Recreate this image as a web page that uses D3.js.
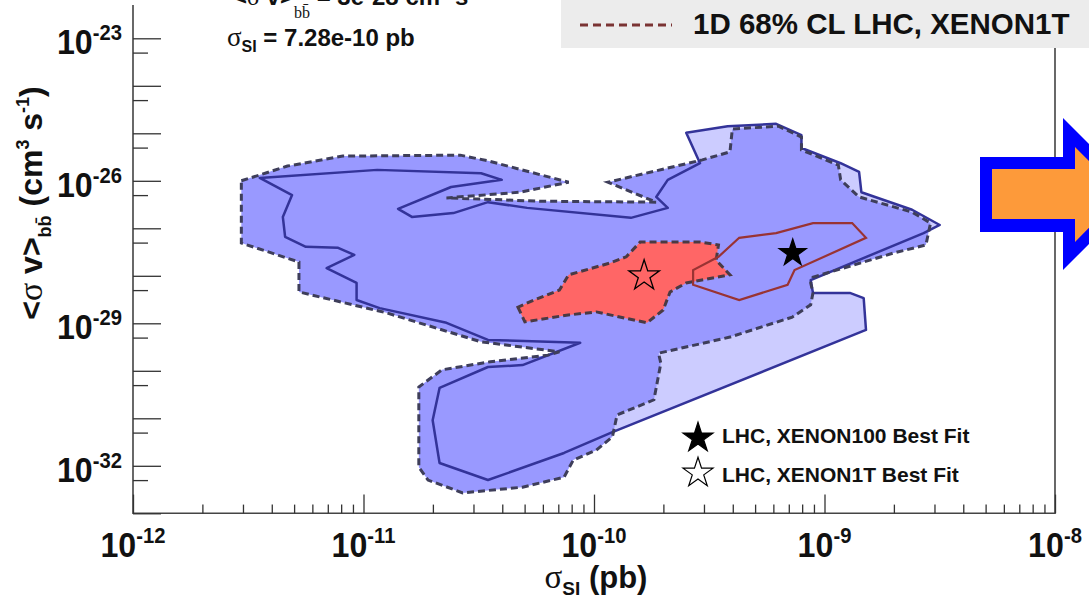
<!DOCTYPE html>
<html>
<head>
<meta charset="utf-8">
<script src="https://cdn.jsdelivr.net/npm/d3@7"></script>
<style>
  body { margin: 0; background: #fff; }
  svg { display: block; font-family: "Liberation Sans", Arial, Helvetica, sans-serif; }
</style>
</head>
<body>
<svg id="chart" width="1089" height="598"></svg>
<script>
// axis decades (powers of ten)
var xTickExps = [-12, -11, -10, -9, -8];
var yTickExps = [-23, -26, -29, -32];
var yDecadeExps = d3.range(-33, -22);

// contours, as [log10 sigma_SI (pb), log10 <sigma v> (cm^3 s^-1)]
var contourSolid = [
  [-11.45,-25.94],[-10.94,-25.77],[-10.49,-25.84],[-10.40,-25.98],[-10.62,-26.13],[-10.85,-26.59],
  [-10.79,-26.76],[-10.61,-26.68],[-10.46,-26.45],[-10.29,-26.57],[-9.84,-26.78],[-9.68,-26.57],
  [-9.73,-26.34],[-9.68,-25.98],[-9.54,-25.63],[-9.60,-24.99],[-9.42,-24.85],[-9.21,-24.80],
  [-9.10,-25.04],[-9.10,-25.31],[-8.93,-25.63],[-8.85,-25.81],[-8.84,-26.24],[-8.62,-26.61],
  [-8.50,-26.93],[-8.57,-27.10],[-9.06,-28.09],[-9.05,-28.36],[-8.89,-28.36],[-8.83,-28.47],
  [-8.82,-29.14],[-9.92,-31.29],[-10.13,-31.73],[-10.46,-32.30],[-10.67,-31.94],[-10.70,-31.04],
  [-10.67,-30.36],[-10.46,-29.92],[-10.31,-29.88],[-10.06,-29.41],[-10.46,-29.35],[-10.64,-28.99],
  [-10.93,-28.68],[-11.03,-28.51],[-11.03,-28.15],[-11.16,-27.84],[-11.04,-27.56],[-11.11,-27.41],
  [-11.25,-27.39],[-11.34,-27.18],[-11.35,-26.76],[-11.31,-26.30]
];
var contourDashed = [
  [-11.53,-26.00],[-11.33,-25.69],[-11.09,-25.48],[-10.58,-25.46],[-10.46,-25.58],[-10.11,-26.03],
  [-10.32,-26.24],[-10.64,-26.36],[-10.23,-26.43],[-9.73,-26.45],[-9.94,-26.03],[-9.53,-25.56],
  [-9.41,-25.39],[-9.40,-24.91],[-9.20,-24.85],[-9.10,-25.08],[-9.10,-25.35],[-8.94,-25.67],
  [-8.93,-25.98],[-8.85,-26.34],[-8.62,-26.66],[-8.54,-26.89],[-8.56,-27.35],[-8.70,-27.52],
  [-9.05,-28.03],[-9.06,-28.15],[-9.05,-28.36],[-9.06,-28.61],[-9.14,-28.87],[-9.41,-29.29],
  [-9.72,-29.63],[-9.71,-29.84],[-9.74,-30.61],[-9.90,-30.93],[-9.92,-31.39],[-9.99,-31.67],
  [-10.09,-31.88],[-10.13,-32.24],[-10.31,-32.45],[-10.57,-32.57],[-10.72,-32.30],[-10.76,-32.03],
  [-10.76,-30.34],[-10.66,-29.98],[-10.45,-29.81],[-10.20,-29.67],[-10.15,-29.60],[-10.49,-29.39],
  [-10.90,-28.78],[-11.28,-28.34],[-11.28,-27.71],[-11.53,-27.31]
];
var contourRed = [
  [-10.33,-28.66],[-10.30,-28.97],[-10.12,-28.83],[-9.99,-28.76],[-9.77,-28.99],[-9.70,-28.72],
  [-9.67,-28.34],[-9.60,-28.15],[-9.41,-27.98],[-9.47,-27.67],[-9.46,-27.35],[-9.54,-27.29],
  [-9.80,-27.29],[-9.86,-27.60],[-9.93,-27.73],[-10.11,-27.98],[-10.15,-28.30],[-10.26,-28.51]
];
var contourBrown = [
  [-9.57,-27.88],[-9.57,-28.19],[-9.37,-28.51],[-9.16,-28.19],[-9.13,-27.88],[-8.82,-27.20],
  [-8.88,-26.89],[-9.05,-26.89],[-9.21,-27.10],[-9.37,-27.20],[-9.46,-27.60]
];

// best fit points
var bestFitNames = ["LHC, XENON100 Best Fit", "LHC, XENON1T Best Fit"];
var bestFitSigma = [7.28e-10, 1.65e-10];
var bestFitSv = [3.0e-28, 1.0e-28];
var bestFitFilled = [true, false];

var legendLabel = "1D 68% CL LHC, XENON1T";

var svg = d3.select("#chart");
var plotLeft = 133, plotRight = 1055, plotBottom = 513.3, frameTop = 5, decadeH = 47.5;

function p10(e) { return Math.pow(10, e); }

var x = d3.scaleLog().domain([1e-12, 1e-8]).range([plotLeft, plotRight]);
var y = d3.scaleLog().domain([1e-33, 1e-22]).range([plotBottom, plotBottom - 11 * decadeH]);

var contour = d3.line()
  .x(function(d) { return x(p10(d[0])); })
  .y(function(d) { return y(p10(d[1])); })
  .curve(d3.curveLinearClosed);

// fills
svg.append("path").datum(contourSolid).attr("d", contour).attr("fill", "#ccccff");
svg.append("path").datum(contourDashed).attr("d", contour).attr("fill", "#9999ff");
svg.append("path").datum(contourRed).attr("d", contour).attr("fill", "#ff6666");

// outlines
svg.append("path").datum(contourSolid).attr("d", contour)
  .attr("fill", "none").attr("stroke", "#333399").attr("stroke-width", 2.5).attr("stroke-linejoin", "round");
svg.append("path").datum(contourDashed).attr("d", contour)
  .attr("fill", "none").attr("stroke", "#3e3e5a").attr("stroke-width", 3).attr("stroke-dasharray", "7,4");
svg.append("path").datum(contourRed).attr("d", contour)
  .attr("fill", "none").attr("stroke", "#4a3a44").attr("stroke-width", 3).attr("stroke-dasharray", "7,4");
svg.append("path").datum(contourBrown).attr("d", contour)
  .attr("fill", "none").attr("stroke", "#993333").attr("stroke-width", 2.2);

// best fit stars
var star = d3.symbol().type(d3.symbolStar);
svg.selectAll(".bestfit").data(bestFitSigma).join("path")
  .attr("class", "bestfit")
  .attr("transform", function(d, i) { return "translate(" + x(d) + "," + y(bestFitSv[i]) + ")"; })
  .attr("d", function(d, i) { return star.size(bestFitFilled[i] ? 225 : 290)(); })
  .attr("fill", function(d, i) { return bestFitFilled[i] ? "#000" : "none"; })
  .attr("stroke", "#000").attr("stroke-width", 1.3);

// frame
svg.append("path")
  .attr("d", "M" + plotLeft + "," + frameTop + "V" + plotBottom + "H" + plotRight + "V" + frameTop)
  .attr("fill", "none").attr("stroke", "#444").attr("stroke-width", 1.6);

// x ticks
var xMinor = [];
xTickExps.slice(0, -1).forEach(function(e) {
  for (var k = 2; k < 10; k++) xMinor.push(k * p10(e));
});
svg.append("g").attr("transform", "translate(0," + plotBottom + ")").attr("color", "#333")
  .call(d3.axisBottom(x).tickValues(xTickExps.map(p10)).tickSize(-18.7).tickFormat(""))
  .call(function(g) { g.select(".domain").remove(); g.selectAll("line").attr("stroke-width", 1.3); });
svg.append("g").attr("transform", "translate(0," + plotBottom + ")").attr("color", "#333")
  .call(d3.axisBottom(x).tickValues(xMinor).tickSize(-8.7).tickFormat(""))
  .call(function(g) { g.select(".domain").remove(); g.selectAll("line").attr("stroke-width", 1.3); });

// y ticks
var yMajor = yDecadeExps.map(p10).filter(function(v) { return y(v) > frameTop + 3; });
var yMinor = yDecadeExps.map(function(e) { return 5 * p10(e); }).filter(function(v) { return y(v) > frameTop + 3; });
svg.append("g").attr("transform", "translate(" + plotLeft + ",0)").attr("color", "#333")
  .call(d3.axisLeft(y).tickValues(yMajor).tickSize(-28).tickFormat(""))
  .call(function(g) { g.select(".domain").remove(); g.selectAll("line").attr("stroke-width", 1.3); });
svg.append("g").attr("transform", "translate(" + plotLeft + ",0)").attr("color", "#333")
  .call(d3.axisLeft(y).tickValues(yMinor).tickSize(-15).tickFormat(""))
  .call(function(g) { g.select(".domain").remove(); g.selectAll("line").attr("stroke-width", 1.3); });

// tick labels
var xl = svg.append("g").selectAll("text").data(xTickExps).join("text")
  .attr("transform", function(d) { return "translate(" + x(p10(d)) + ",556.7) scale(0.92,1)"; })
  .attr("text-anchor", "middle").attr("font-weight", "bold").attr("font-size", 35).attr("fill", "#111");
xl.append("tspan").text("10");
xl.append("tspan").attr("dy", -14).attr("font-size", 22).text(function(d) { return d; });

var yl = svg.append("g").selectAll("text").data(yTickExps).join("text")
  .attr("transform", function(d) { return "translate(122," + (y(p10(d)) + 16) + ") scale(0.92,1)"; })
  .attr("text-anchor", "end").attr("font-weight", "bold").attr("font-size", 35).attr("fill", "#111");
yl.append("tspan").text("10");
yl.append("tspan").attr("dy", -14).attr("font-size", 22).text(function(d) { return d; });

// axis titles
var xt = svg.append("text").attr("x", 596).attr("y", 588).attr("text-anchor", "middle")
  .attr("font-weight", "bold").attr("font-size", 31).attr("fill", "#111");
xt.append("tspan").attr("font-family", "Liberation Serif").attr("font-weight", "normal").attr("font-size", 33).text("σ");
xt.append("tspan").attr("dy", 7).attr("font-size", 19).text("SI");
xt.append("tspan").attr("dy", -7).text(" (pb)");

var yt = svg.append("text").attr("transform", "translate(42,203) rotate(-90)").attr("text-anchor", "middle")
  .attr("font-weight", "bold").attr("font-size", 32).attr("fill", "#111");
yt.append("tspan").text("<");
yt.append("tspan").attr("font-family", "Liberation Serif").attr("font-weight", "normal").attr("font-size", 34).text("σ");
yt.append("tspan").text(" v>");
yt.append("tspan").attr("dy", 9).attr("font-size", 18).text("bb\u0304");
yt.append("tspan").attr("dy", -9).text(" (cm");
yt.append("tspan").attr("dy", -13).attr("font-size", 18).text("3");
yt.append("tspan").attr("dy", 13).text(" s");
yt.append("tspan").attr("dy", -13).attr("font-size", 18).text("-1");
yt.append("tspan").attr("dy", 13).text(")");

// best fit values text (top left)
var t1 = svg.append("text").attr("x", 233).attr("y", 5).attr("font-weight", "bold").attr("font-size", 24).attr("fill", "#111");
t1.append("tspan").text("<");
t1.append("tspan").attr("font-family", "Liberation Serif").attr("font-weight", "normal").text("σ");
t1.append("tspan").text(" v>");
t1.append("tspan").attr("dy", 13).attr("font-family", "Liberation Serif").attr("font-weight", "normal").attr("font-size", 16).text("bb\u0304");
t1.append("tspan").attr("dy", -13).text(" = 3e-28 cm");
t1.append("tspan").attr("dy", -9).attr("font-size", 15).text("3");
t1.append("tspan").attr("dy", 9).text(" s");
t1.append("tspan").attr("dy", -9).attr("font-size", 15).text("-1");

var t2 = svg.append("text").attr("x", 227).attr("y", 46).attr("font-weight", "bold").attr("font-size", 24).attr("fill", "#111");
t2.append("tspan").attr("font-family", "Liberation Serif").attr("font-weight", "normal").attr("font-size", 27).text("σ");
t2.append("tspan").attr("dy", 6).attr("font-size", 16).text("SI");
t2.append("tspan").attr("dy", -6).text(" = " + bestFitSigma[0].toExponential(2) + " pb");

// best fit legend (bottom right)
var lg = svg.append("g").selectAll("g").data(bestFitNames).join("g")
  .attr("transform", function(d, i) { return "translate(698," + (438 + i * 35) + ")"; });
lg.append("path")
  .attr("d", star.size(280)())
  .attr("fill", function(d, i) { return bestFitFilled[i] ? "#000" : "#fff"; })
  .attr("stroke", "#000").attr("stroke-width", 1.2);
lg.append("text").attr("x", 24).attr("y", function(d, i) { return i ? 9 : 5; })
  .attr("font-weight", "bold").attr("font-size", 21).attr("fill", "#111").text(function(d) { return d; });

// legend box (top right)
svg.append("rect").attr("x", 561).attr("y", -2).attr("width", 530).attr("height", 50).attr("fill", "#ececec");
svg.append("line").attr("x1", 580).attr("x2", 672).attr("y1", 25).attr("y2", 25)
  .attr("stroke", "#7a3333").attr("stroke-width", 3).attr("stroke-dasharray", "8,5");
svg.append("text").attr("x", 693).attr("y", 33.5).attr("font-weight", "bold").attr("font-size", 29.5)
  .attr("fill", "#111").text(legendLabel);

// arrow at the right edge
svg.append("polygon")
  .attr("points", "980,157 1063,157 1063,118 1139,194 1063,270 1063,232 980,232")
  .attr("fill", "#0000ff");
svg.append("polygon")
  .attr("points", "992,169 1075,169 1075,147 1122,194 1075,242 1075,219 992,219")
  .attr("fill", "#fd9a3a");
</script>
</body>
</html>
